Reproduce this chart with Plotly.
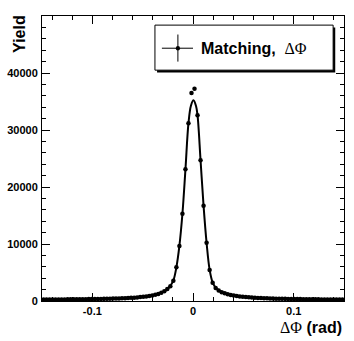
import plotly.graph_objects as go

# bin centres: 100 bins of 0.003 rad from -0.15 to 0.15
n_bins = 100
bin_width = 0.003
dphi = [round(-0.15 + bin_width * (i + 0.5), 4) for i in range(n_bins)]

yield_left = [250, 255, 260, 265, 270, 275, 280, 285, 290, 295,
              300, 305, 310, 315, 320, 330, 340, 350, 360, 370,
              380, 390, 400, 420, 440, 460, 480, 500, 530, 560,
              590, 630, 680, 730, 800, 880, 980, 1100, 1250, 1450,
              1700, 2100, 2600, 3550, 5900, 9650, 15300, 23100, 31200, 36500]
yield_right = [37250, 32600, 24700, 16700, 10200, 5450, 3200, 2300, 1850, 1550,
               1350, 1200, 1050, 950, 870, 800, 740, 690, 640, 600,
               570, 540, 510, 490, 470, 450, 430, 410, 400, 390,
               380, 370, 360, 350, 340, 330, 320, 310, 305, 300,
               295, 290, 285, 280, 275, 270, 265, 260, 255, 250]
yields = yield_left + yield_right

# fitted curve
fit_x = [-0.15, -0.12, -0.09, -0.06, -0.045, -0.036, -0.03, -0.0255, -0.0225, -0.0195,
         -0.0165, -0.0135, -0.0105, -0.0075, -0.0045, -0.002, 0.0005, 0.003, 0.0045,
         0.0075, 0.0105, 0.0135, 0.0165, 0.0195, 0.0225, 0.0255, 0.03, 0.036, 0.045,
         0.06, 0.09, 0.12, 0.15]
fit_y = [250, 290, 370, 600, 860, 1180, 1550, 2050, 2650, 3600,
         5900, 9700, 15300, 23100, 31200, 34300, 35200, 34200, 32600,
         24700, 16700, 10200, 5500, 3250, 2350, 1900, 1450, 1130, 830,
         570, 360, 290, 250]

y_ticks = [0, 10000, 20000, 30000, 40000]
x_ticks = [-0.1, 0, 0.1]
x_ticktext = ["-0.1", "0", "0.1"]

font = "Liberation Sans"
fig = go.Figure()

fig.add_trace(go.Scatter(
    x=dphi, y=yields, mode="markers",
    marker=dict(color="black", size=4.5),
    error_x=dict(type="constant", value=bin_width / 2, width=0, thickness=1, color="black"),
    showlegend=False,
))
fig.add_trace(go.Scatter(
    x=fit_x, y=fit_y, mode="lines", line=dict(color="black", width=2, shape="spline"),
    showlegend=False,
))

axis_common = dict(
    showgrid=False, zeroline=False, showline=True, linecolor="black", linewidth=1,
    mirror="allticks", ticks="inside", ticklen=8, tickcolor="black", automargin=False,
    tickfont=dict(family=font, size=11, color="black", weight="bold"),
)
fig.update_xaxes(range=[-0.15, 0.15], tickvals=x_ticks, ticktext=x_ticktext,
                 minor=dict(dtick=0.02, tick0=0, ticks="inside", ticklen=4, tickcolor="black"),
                 **axis_common)
fig.update_yaxes(range=[0, 50000], tickvals=y_ticks, ticktext=[str(v) for v in y_ticks],
                 minor=dict(dtick=2000, ticks="inside", ticklen=4, tickcolor="black"),
                 ticklabelstandoff=1, **axis_common)

# hand-drawn legend box (ROOT style with shadow)
lx0, lx1, ly0, ly1 = 0.374, 0.964, 0.81, 0.968
fig.add_shape(type="rect", xref="paper", yref="paper", x0=lx0 + 0.007, x1=lx1 + 0.007,
              y0=ly0 - 0.008, y1=ly1 - 0.008, fillcolor="black", line=dict(width=0))
fig.add_shape(type="rect", xref="paper", yref="paper", x0=lx0, x1=lx1, y0=ly0, y1=ly1,
              fillcolor="white", line=dict(color="black", width=1))
fig.add_shape(type="line", xref="paper", yref="paper", x0=0.397, x1=0.5, y0=0.887, y1=0.887,
              line=dict(color="black", width=1))
fig.add_shape(type="line", xref="paper", yref="paper", x0=0.45, x1=0.45, y0=0.84, y1=0.935,
              line=dict(color="black", width=1))
fig.add_shape(type="circle", xref="paper", yref="paper", x0=0.443, x1=0.457, y0=0.879, y1=0.895,
              fillcolor="black", line=dict(width=0))
fig.add_annotation(xref="paper", yref="paper", x=0.52, y=0.887, xanchor="left", yanchor="middle",
                   showarrow=False,
                   text="<b>Matching,</b>  <span style='font-family:Liberation Serif'>ΔΦ</span>",
                   font=dict(family=font, size=16, color="black"))

# axis titles
fig.add_annotation(xref="paper", yref="paper", x=-0.073, y=0.937, textangle=-90,
                   xanchor="center", yanchor="middle", showarrow=False, text="<b>Yield</b>",
                   font=dict(family=font, size=16, color="black"))
fig.add_annotation(xref="paper", yref="paper", x=1.0, y=-0.092, xanchor="right", yanchor="middle",
                   showarrow=False,
                   text="<span style='font-family:Liberation Serif'>ΔΦ</span> <b>(rad)</b>",
                   font=dict(family=font, size=16, color="black"))

fig.update_layout(
    width=354, height=341, margin=dict(l=42, r=10, t=16, b=40),
    paper_bgcolor="white", plot_bgcolor="white",
)
fig.write_html("out.html", config={"displayModeBar": False},
               post_script="document.body.style.margin='0';")
